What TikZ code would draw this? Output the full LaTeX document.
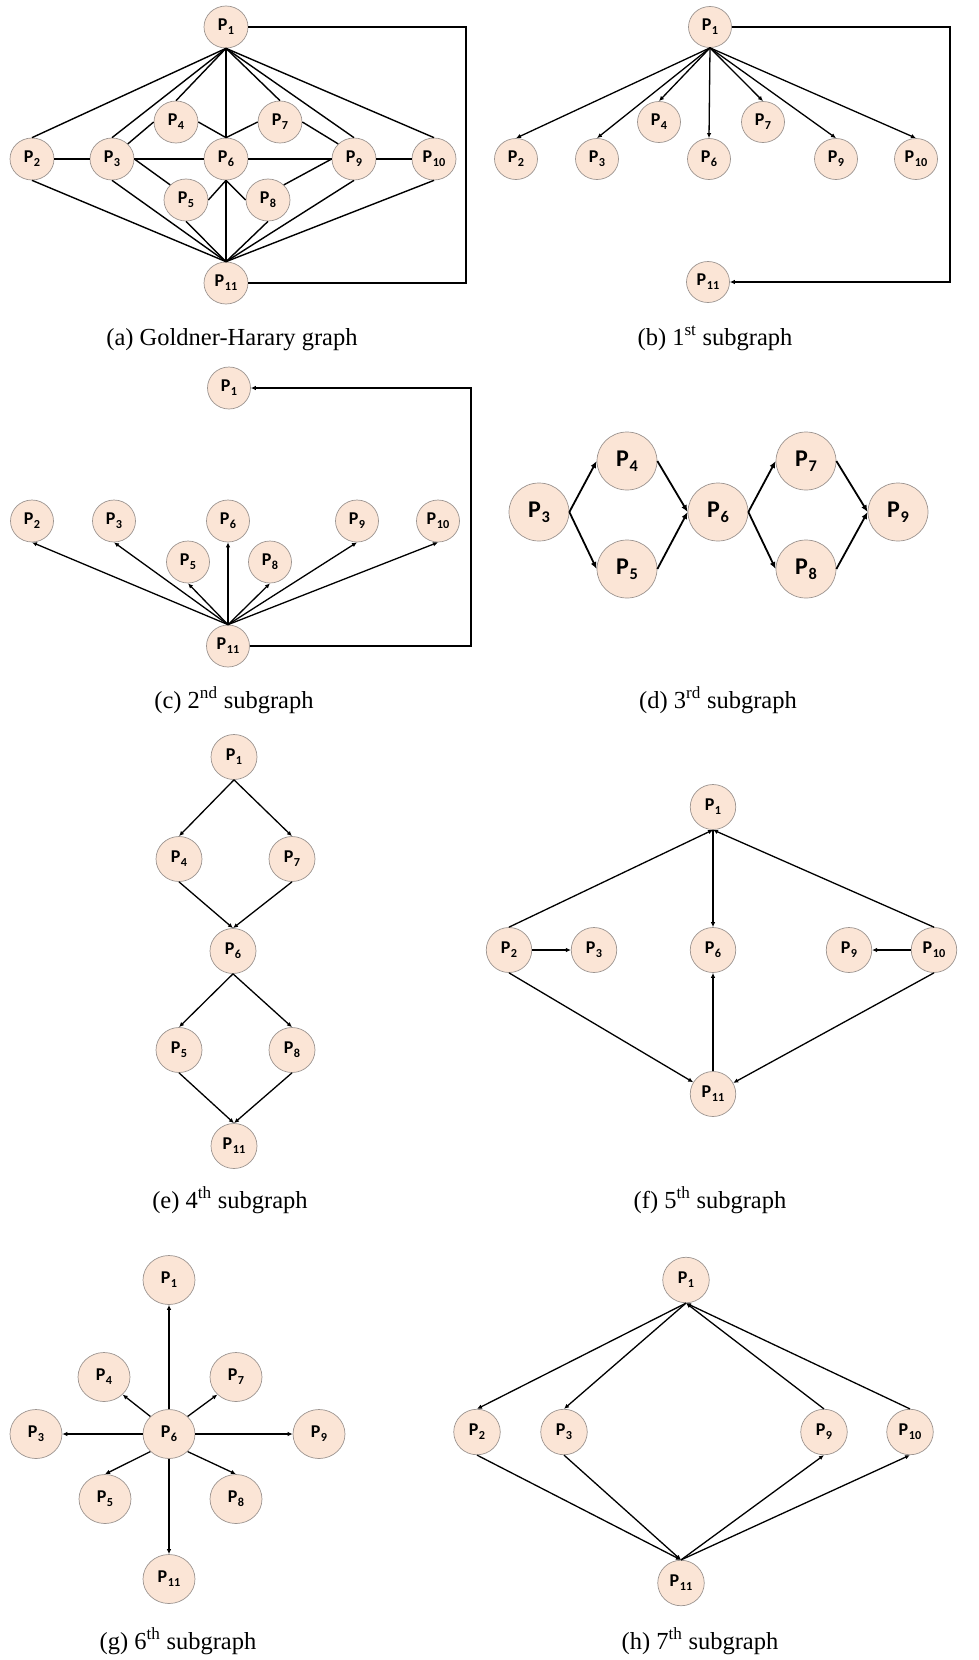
\documentclass[tikz,border=0pt]{standalone}
\usepackage{fontspec}
\usepackage{graphicx}
\setmainfont{Liberation Serif}
\newfontfamily\calib{Carlito}
\usetikzlibrary{shapes.geometric,arrows.meta}
\definecolor{nodefill}{HTML}{FBE5D6}
\definecolor{nodeline}{HTML}{9C9490}
\newcommand\pl[1]{P\kern0.03em\raisebox{-0.22em}{\scalebox{0.68}{#1}}}
\begin{document}
\begin{tikzpicture}[x=1pt,y=-1pt,
  pn/.style={ellipse, fill=nodefill, draw=nodeline, line width=0.7pt, inner sep=0pt,
             font=\calib\bfseries\fontsize{18}{18}\selectfont},
  sa/.style={pn, minimum width=44pt, minimum height=42pt},
  sb/.style={pn, minimum width=43pt, minimum height=41pt},
  sc/.style={pn, minimum width=43pt, minimum height=42pt},
  sd/.style={pn, minimum width=60pt, minimum height=58pt, font=\calib\bfseries\fontsize{24}{24}\selectfont},
  se/.style={pn, minimum width=46pt, minimum height=45pt},
  sf/.style={pn, minimum width=45.5pt, minimum height=45pt},
  sg/.style={pn, minimum width=52pt, minimum height=49pt},
  sh/.style={pn, minimum width=46.5pt, minimum height=45.5pt},
  ed/.style={line width=1.4pt},
  ar/.style={line width=1.3pt, -{Latex[length=5pt,width=4.5pt]}},
  ard/.style={line width=1.8pt, -{Latex[length=7pt,width=6pt]}},
  captext/.style={anchor=base, inner sep=0pt, font=\fontsize{24.5}{28}\selectfont},
]
\useasboundingbox (0,0) rectangle (978,1660);

% ---------------- (a) Goldner-Harary graph ----------------
\node[sa] (a1) at (226,27) {\pl{1}};
\node[sa] (a2) at (32,159) {\pl{2}};
\node[sa] (a3) at (112,159) {\pl{3}};
\node[sa] (a4) at (176,122) {\pl{4}};
\node[sa] (a5) at (186,200) {\pl{5}};
\node[sa] (a6) at (226,159) {\pl{6}};
\node[sa] (a7) at (280,122) {\pl{7}};
\node[sa] (a8) at (268,200) {\pl{8}};
\node[sa] (a9) at (354,159) {\pl{9}};
\node[sa] (a10) at (434,159) {\pl{10}};
\node[sa] (a11) at (226,283) {\pl{11}};
\coordinate (loopa) at (466,0);
\foreach \t in {2,3,4,6,7,9,10} \draw[ed] (a1.south) -- (a\t.north);
\foreach \t in {2,3,5,6,8,9,10} \draw[ed] (a11.north) -- (a\t.south);
\draw[ed] (a2.east) -- (a3.west);
\draw[ed] (a3.east) -- (a6.west);
\draw[ed] (a6.east) -- (a9.west);
\draw[ed] (a9.east) -- (a10.west);
\draw[ed] (a3.north east) -- (a4.west);
\draw[ed] (a4.east) -- (a6.north);
\draw[ed] (a6.north) -- (a7.west);
\draw[ed] (a7.east) -- (a9.north west);
\draw[ed] (a3.east) -- (a5.north west);
\draw[ed] (a5.east) -- (a6.south);
\draw[ed] (a6.south) -- (a8.west);
\draw[ed] (a8.north east) -- (a9.west);
\draw[ed] (a1.east) -- (a1.east -| loopa) |- (a11.east);
\node[captext] (capa) at (232,345) {(a) Goldner-Harary graph};

% ---------------- (b) 1st subgraph ----------------
\node[sb] (b1) at (710,27) {\pl{1}};
\node[sb] (b2) at (516,159) {\pl{2}};
\node[sb] (b3) at (597,159) {\pl{3}};
\node[sb] (b4) at (659,122) {\pl{4}};
\node[sb] (b6) at (709,159) {\pl{6}};
\node[sb] (b7) at (763,122) {\pl{7}};
\node[sb] (b9) at (836,159) {\pl{9}};
\node[sb] (b10) at (916,159) {\pl{10}};
\node[sb] (b11) at (708,282) {\pl{11}};
\coordinate (loopb) at (950,0);
\foreach \t in {2,3,4,6,7,9,10} \draw[ar] (b1.south) -- (b\t.north);
\draw[ar] (b1.east) -- (b1.east -| loopb) |- (b11.east);
\node[captext] (capb) at (715,345) {(b) 1\textsuperscript{st} subgraph};

% ---------------- (c) 2nd subgraph ----------------
\node[sc] (c1) at (229,388) {\pl{1}};
\node[sc] (c2) at (32,521) {\pl{2}};
\node[sc] (c3) at (114,521) {\pl{3}};
\node[sc] (c5) at (188,562) {\pl{5}};
\node[sc] (c6) at (228,521) {\pl{6}};
\node[sc] (c8) at (270,562) {\pl{8}};
\node[sc] (c9) at (357,521) {\pl{9}};
\node[sc] (c10) at (438,521) {\pl{10}};
\node[sc] (c11) at (228,646) {\pl{11}};
\coordinate (loopc) at (471,0);
\foreach \t in {2,3,5,6,8,9,10} \draw[ar] (c11.north) -- (c\t.south);
\draw[ar] (c11.east) -- (c11.east -| loopc) |- (c1.east);
\node[captext] (capc) at (234,708) {(c) 2\textsuperscript{nd} subgraph};

% ---------------- (d) 3rd subgraph ----------------
\node[sd] (d3) at (539,512) {\pl{3}};
\node[sd] (d4) at (627,461) {\pl{4}};
\node[sd] (d5) at (627,569) {\pl{5}};
\node[sd] (d6) at (718,512) {\pl{6}};
\node[sd] (d7) at (806,461) {\pl{7}};
\node[sd] (d8) at (806,569) {\pl{8}};
\node[sd] (d9) at (898,512) {\pl{9}};
\draw[ard] (d3.east) -- (d4.west);
\draw[ard] (d3.east) -- (d5.west);
\draw[ard] (d4.east) -- (d6.west);
\draw[ard] (d5.east) -- (d6.west);
\draw[ard] (d6.east) -- (d7.west);
\draw[ard] (d6.east) -- (d8.west);
\draw[ard] (d7.east) -- (d9.west);
\draw[ard] (d8.east) -- (d9.west);
\node[captext] (capd) at (718,708) {(d) 3\textsuperscript{rd} subgraph};

% ---------------- (e) 4th subgraph ----------------
\node[se] (e1) at (234,757) {\pl{1}};
\node[se] (e4) at (179,859) {\pl{4}};
\node[se] (e7) at (292,859) {\pl{7}};
\node[se] (e6) at (233,951) {\pl{6}};
\node[se] (e5) at (179,1050) {\pl{5}};
\node[se] (e8) at (292,1050) {\pl{8}};
\node[se] (e11) at (234,1146) {\pl{11}};
\draw[ar] (e1.south) -- (e4.north);
\draw[ar] (e1.south) -- (e7.north);
\draw[ar] (e4.south) -- (e6.north);
\draw[ar] (e7.south) -- (e6.north);
\draw[ar] (e6.south) -- (e5.north);
\draw[ar] (e6.south) -- (e8.north);
\draw[ar] (e5.south) -- (e11.north);
\draw[ar] (e8.south) -- (e11.north);
\node[captext] (cape) at (230,1208) {(e) 4\textsuperscript{th} subgraph};

% ---------------- (f) 5th subgraph ----------------
\node[sf] (f1) at (713,807) {\pl{1}};
\node[sf] (f2) at (509,950) {\pl{2}};
\node[sf] (f3) at (594,950) {\pl{3}};
\node[sf] (f6) at (713,950) {\pl{6}};
\node[sf] (f9) at (849,950) {\pl{9}};
\node[sf] (f10) at (934,950) {\pl{10}};
\node[sf] (f11) at (713,1094) {\pl{11}};
\draw[ar] (f2.north) -- (f1.south);
\draw[ar] (f10.north) -- (f1.south);
\draw[ar] (f1.south) -- (f6.north);
\draw[ar] (f2.east) -- (f3.west);
\draw[ar] (f10.west) -- (f9.east);
\draw[ar] (f2.south) -- (f11);
\draw[ar] (f10.south) -- (f11);
\draw[ar] (f11.north) -- (f6.south);
\node[captext] (capf) at (710,1208) {(f) 5\textsuperscript{th} subgraph};

% ---------------- (g) 6th subgraph ----------------
\node[sg] (g1) at (169,1280) {\pl{1}};
\node[sg] (g4) at (104,1377) {\pl{4}};
\node[sg] (g7) at (236,1377) {\pl{7}};
\node[sg] (g3) at (36,1434) {\pl{3}};
\node[sg] (g6) at (169,1434) {\pl{6}};
\node[sg] (g9) at (319,1434) {\pl{9}};
\node[sg] (g5) at (105,1499) {\pl{5}};
\node[sg] (g8) at (236,1499) {\pl{8}};
\node[sg] (g11) at (169,1579) {\pl{11}};
\draw[ar] (g6.north) -- (g1.south);
\draw[ar] (g6.north west) -- (g4.south east);
\draw[ar] (g6.north east) -- (g7.south west);
\draw[ar] (g6.west) -- (g3.east);
\draw[ar] (g6.east) -- (g9.west);
\draw[ar] (g6.south west) -- (g5.north);
\draw[ar] (g6.south east) -- (g8.north);
\draw[ar] (g6.south) -- (g11.north);
\node[captext] (capg) at (178,1649) {(g) 6\textsuperscript{th} subgraph};

% ---------------- (h) 7th subgraph ----------------
\node[sh] (h1) at (686,1280) {\pl{1}};
\node[sh] (h2) at (477,1432) {\pl{2}};
\node[sh] (h3) at (564,1432) {\pl{3}};
\node[sh] (h9) at (824,1432) {\pl{9}};
\node[sh] (h10) at (910,1432) {\pl{10}};
\node[sh] (h11) at (681,1583) {\pl{11}};
\draw[ar] (h1.south) -- (h2.north);
\draw[ar] (h1.south) -- (h3.north);
\draw[ar] (h9.north) -- (h1.south);
\draw[ar] (h10.north) -- (h1.south);
\draw[ar] (h2.south) -- (h11.north);
\draw[ar] (h3.south) -- (h11.north);
\draw[ar] (h11.north) -- (h9.south);
\draw[ar] (h11.north) -- (h10.south);
\node[captext] (caph) at (700,1649) {(h) 7\textsuperscript{th} subgraph};
\end{tikzpicture}
\end{document}
